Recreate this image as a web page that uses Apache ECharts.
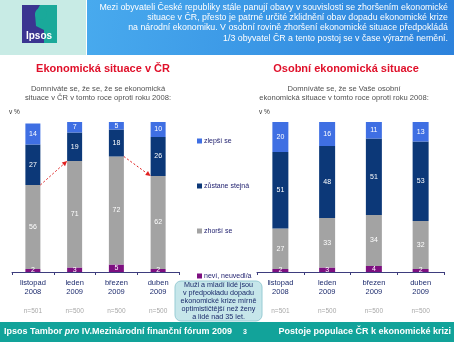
<!DOCTYPE html>
<html><head><meta charset="utf-8">
<script src="https://cdn.jsdelivr.net/npm/echarts@6/dist/echarts.min.js"></script>
<style>html,body{margin:0;padding:0;background:#fff}#c{width:454px;height:342px}</style>
</head><body><div id="c"></div>
<script>
var categories = ['listopad\n2008', 'leden\n2009', 'březen\n2009', 'duben\n2009'];
var samples = ['n=501', 'n=500', 'n=500', 'n=500'];
var seriesNames = ['neví, neuvedl/a', 'zhorší se', 'zůstane stejná', 'zlepší se'];
// Economic situation in CR
var crNevi = [2, 3, 5, 2];
var crZhorsi = [56, 71, 72, 62];
var crStejna = [27, 19, 18, 26];
var crZlepsi = [14, 7, 5, 10];
// Personal economic situation
var osNevi = [2, 3, 4, 2];
var osZhorsi = [27, 33, 34, 32];
var osStejna = [51, 48, 51, 53];
var osZlepsi = [20, 16, 11, 13];

var colors = ['#7d0f80', '#a3a3a3', '#0c3878', '#3f6fe3'];
var FF = 'Liberation Sans, Arial, sans-serif';
var chart = echarts.init(document.getElementById('c'), null, {renderer: 'canvas'});

function mk(name, data, gi, color, bw) {
  return {
    name: name, type: 'bar', stack: 's' + gi, xAxisIndex: gi * 2, yAxisIndex: gi,
    data: data, barWidth: bw, itemStyle: {color: color},
    label: {show: true, position: 'inside', color: '#fff', fontSize: 7, fontFamily: FF},
    animation: false
  };
}
var crSets = [crNevi, crZhorsi, crStejna, crZlepsi];
var osSets = [osNevi, osZhorsi, osStejna, osZlepsi];
var series = [];
for (var i = 0; i < 4; i++) series.push(mk(seriesNames[i], crSets[i], 0, colors[i], 15));
for (var i = 0; i < 4; i++) series.push(mk(seriesNames[i], osSets[i], 1, colors[i], 16));

function xCat(gi) {
  return {
    type: 'category', gridIndex: gi, data: categories,
    axisLine: {lineStyle: {color: '#3d3d7d', width: 1}},
    axisTick: {show: true, length: 3, lineStyle: {color: '#3d3d7d'}},
    axisLabel: {color: '#1e2c6e', fontSize: 7.5, lineHeight: 9.5, margin: 6, fontFamily: FF}
  };
}
function xN(gi) {
  return {
    type: 'category', gridIndex: gi, data: samples, position: 'bottom', offset: 30,
    axisLine: {show: false}, axisTick: {show: false},
    axisLabel: {color: '#a8a8a8', fontSize: 6.5, margin: 6, fontFamily: FF}
  };
}

var headerLines = [
  'Mezi obyvateli České republiky stále panují obavy v souvislosti se zhoršením ekonomické',
  'situace v ČR, přesto je patrné určité zklidnění obav dopadu ekonomické krize',
  'na národní ekonomiku. V osobní rovině zhoršení ekonomické situace předpokládá',
  '1/3 obyvatel ČR a tento postoj se v čase výrazně nemění.'
];

var baseGraphic = [
  {type: 'rect', shape: {x: 0, y: 0, width: 86, height: 55}, style: {fill: '#c8ebe5'}, z: 0},
  {type: 'rect', shape: {x: 87, y: 0, width: 367, height: 55}, z: 0,
   style: {fill: new echarts.graphic.LinearGradient(0, 0, 1, 1, [{offset: 0, color: '#48aaee'}, {offset: 1, color: '#2c82dc'}])}},
  {type: 'rect', shape: {x: 22, y: 5, width: 35, height: 38}, style: {fill: '#3b3591'}, z: 1},
  {type: 'polygon', shape: {points: [[40, 5], [57, 5], [57, 43], [44, 43], [44, 30], [36, 26], [35, 14]]}, style: {fill: '#1aa99a'}, z: 2},
  {type: 'circle', shape: {cx: 41, cy: 14, r: 6}, style: {fill: '#1aa99a'}, z: 2},
  {type: 'text', x: 39, y: 36, z: 3, style: {text: 'Ipsos', fill: '#fff', font: 'bold 10px ' + FF, textAlign: 'center', textVerticalAlign: 'middle'}},
  {type: 'text', x: 448, y: 2, z: 3, style: {text: headerLines.join('\n'), fill: '#fff', font: '8.8px ' + FF, textAlign: 'right', lineHeight: 10.4}},
  {type: 'text', x: 103, y: 69, style: {text: 'Ekonomická situace v ČR', fill: '#e0102a', font: 'bold 11px ' + FF, textAlign: 'center', textVerticalAlign: 'middle'}},
  {type: 'text', x: 346, y: 69, style: {text: 'Osobní ekonomická situace', fill: '#e0102a', font: 'bold 11px ' + FF, textAlign: 'center', textVerticalAlign: 'middle'}},
  {type: 'text', x: 98, y: 84, style: {text: 'Domníváte se, že se, že se ekonomická\nsituace v ČR v tomto roce oproti roku 2008:', fill: '#505050', font: '7.6px ' + FF, textAlign: 'center', lineHeight: 9.5}},
  {type: 'text', x: 344, y: 84, style: {text: 'Domníváte se, že se Vaše osobní\nekonomická situace v tomto roce oproti roku 2008:', fill: '#505050', font: '7.6px ' + FF, textAlign: 'center', lineHeight: 9.5}},
  {type: 'text', x: 9, y: 112, style: {text: 'v %', fill: '#333', font: '6.5px ' + FF, textVerticalAlign: 'middle'}},
  {type: 'text', x: 259, y: 112, style: {text: 'v %', fill: '#333', font: '6.5px ' + FF, textVerticalAlign: 'middle'}},
  {type: 'rect', shape: {x: 175, y: 281, width: 87, height: 40, r: 6}, style: {fill: '#c6e6ea', stroke: '#98ccd4', lineWidth: 1}, z: 5},
  {type: 'text', x: 218.5, y: 301, z: 6, style: {text: 'Muži a mladí lidé jsou\nv předpokladu dopadu\nekonomické krize mírně\noptimističtější než ženy\na lidé nad 35 let.', fill: '#1a2a6a', font: '7.2px ' + FF, textAlign: 'center', textVerticalAlign: 'middle', lineHeight: 7.9}},
  {type: 'rect', shape: {x: 0, y: 322, width: 454, height: 20}, style: {fill: '#12a39a'}, z: 5},
  {type: 'text', x: 4, y: 332, z: 6, style: {text: '{b|Ipsos Tambor }{i|pro}{b| IV.Mezinárodní finanční fórum 2009}', textVerticalAlign: 'middle',
    rich: {b: {fill: '#fff', font: 'bold 9px ' + FF}, i: {fill: '#fff', font: 'italic bold 9px ' + FF}}}},
  {type: 'text', x: 245, y: 332, z: 6, style: {text: '3', fill: '#fff', font: 'bold 7px ' + FF, textAlign: 'center', textVerticalAlign: 'middle'}},
  {type: 'text', x: 451, y: 332, z: 6, style: {text: 'Postoje populace ČR k ekonomické krizi', fill: '#fff', font: 'bold 9px ' + FF, textAlign: 'right', textVerticalAlign: 'middle'}}
];

var option = {
  animation: false,
  backgroundColor: '#fff',
  grid: [
    {left: 12, width: 167, top: 122, height: 150},
    {left: 257, width: 187, top: 122, height: 150}
  ],
  xAxis: [xCat(0), xN(0), xCat(1), xN(1)],
  yAxis: [
    {type: 'value', gridIndex: 0, min: 0, max: 100, show: false},
    {type: 'value', gridIndex: 1, min: 0, max: 100, show: false}
  ],
  legend: {
    orient: 'vertical', left: 192, top: 132,
    data: ['zlepší se', 'zůstane stejná', 'zhorší se', 'neví, neuvedl/a'],
    icon: 'rect', itemWidth: 5, itemHeight: 5, itemGap: 37,
    textStyle: {color: '#1c1c6c', fontSize: 7, fontFamily: FF, padding: [0, 0, 0, -3], lineHeight: 8},
    selectedMode: false
  },
  series: series,
  graphic: baseGraphic
};
chart.setOption(option);

// Red dashed arrows linking tops of "zhorší se" segments (left chart)
function greyTop(idx) { return crNevi[idx] + crZhorsi[idx]; }
function arrow(fromIdx, toIdx) {
  var p1 = chart.convertToPixel({xAxisIndex: 0, yAxisIndex: 0}, [fromIdx, greyTop(fromIdx)]);
  var p2 = chart.convertToPixel({xAxisIndex: 0, yAxisIndex: 0}, [toIdx, greyTop(toIdx)]);
  var x1 = p1[0] + 7.5, y1 = p1[1], x2 = p2[0] - 7.5, y2 = p2[1];
  var ang = Math.atan2(y2 - y1, x2 - x1), L = 5, W = 2.4;
  var bx = x2 - L * Math.cos(ang), by = y2 - L * Math.sin(ang);
  return [
    {type: 'line', z: 10, shape: {x1: x1, y1: y1, x2: bx, y2: by}, style: {stroke: '#e02020', lineWidth: 1, lineDash: [2, 2]}},
    {type: 'polygon', z: 10, shape: {points: [[x2, y2], [bx - W * Math.sin(ang), by + W * Math.cos(ang)], [bx + W * Math.sin(ang), by - W * Math.cos(ang)]]}, style: {fill: '#e02020'}}
  ];
}
chart.setOption({graphic: baseGraphic.concat(arrow(0, 1), arrow(2, 3))});
</script></body></html>
